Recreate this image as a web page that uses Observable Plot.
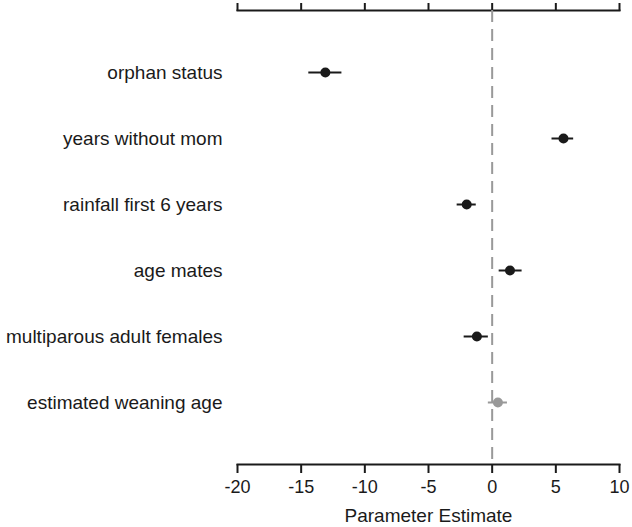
<!DOCTYPE html>
<html>
<head>
<meta charset="utf-8">
<script src="https://cdn.jsdelivr.net/npm/d3@7"></script>
<script src="https://cdn.jsdelivr.net/npm/@observablehq/plot@0.6"></script>
<style>
  body { margin: 0; background: #fff; }
</style>
</head>
<body>
<div id="chart"></div>
<script>
const predictors = ["orphan status", "years without mom", "rainfall first 6 years", "age mates", "multiparous adult females", "estimated weaning age"];
const estimates = [-13.1, 5.6, -2.0, 1.4, -1.2, 0.45];
const lower = [-14.4, 4.7, -2.75, 0.55, -2.2, -0.3];
const upper = [-11.8, 6.4, -1.25, 2.35, -0.3, 1.2];
const significant = [true, true, true, true, true, false];
const xTicks = [-20, -15, -10, -5, 0, 5, 10];
const xTitle = "Parameter Estimate";

const data = predictors.map((p, i) => ({
  predictor: p, est: estimates[i], lo: lower[i], hi: upper[i],
  color: significant[i] ? "#1a1a1a" : "#999999"
}));

const chart = Plot.plot({
  width: 632,
  height: 527,
  marginLeft: 237,
  marginRight: 13,
  marginTop: 10,
  marginBottom: 63,
  style: { fontFamily: "'Liberation Sans', Arial, sans-serif", fontSize: "19px", color: "#1a1a1a", background: "#fff" },
  x: { domain: [-20, 10] },
  y: { type: "point", domain: predictors, padding: 0.92 },
  marks: [
    Plot.frame({ anchor: "top", stroke: "#1a1a1a", strokeWidth: 2 }),
    Plot.frame({ anchor: "bottom", stroke: "#1a1a1a", strokeWidth: 2 }),
    Plot.axisX({ anchor: "top", ticks: xTicks, tickSize: 8, fill: "none", label: null, strokeWidth: 2, stroke: "#1a1a1a" }),
    Plot.axisX({ anchor: "bottom", ticks: xTicks, tickSize: 9, tickPadding: 7, fontSize: 18, strokeWidth: 2, stroke: "#1a1a1a",
      tickFormat: d => String(d), fill: "#1a1a1a", label: null }),
    Plot.text([xTitle], { frameAnchor: "bottom", dy: 51, fontSize: 19, fill: "#1a1a1a", lineAnchor: "middle" }),
    Plot.axisY({ tickSize: 0, tickPadding: 15, fontSize: 19, label: null, fill: "#1a1a1a" }),
    Plot.ruleX([0], { stroke: "#999999", strokeWidth: 2, strokeDasharray: "12,7" }),
    Plot.ruleY(data, { y: "predictor", x1: "lo", x2: "hi", stroke: "color", strokeWidth: 2 }),
    Plot.dot(data, { x: "est", y: "predictor", fill: "color", r: 5, stroke: null })
  ]
});
document.getElementById("chart").appendChild(chart);
</script>
</body>
</html>
